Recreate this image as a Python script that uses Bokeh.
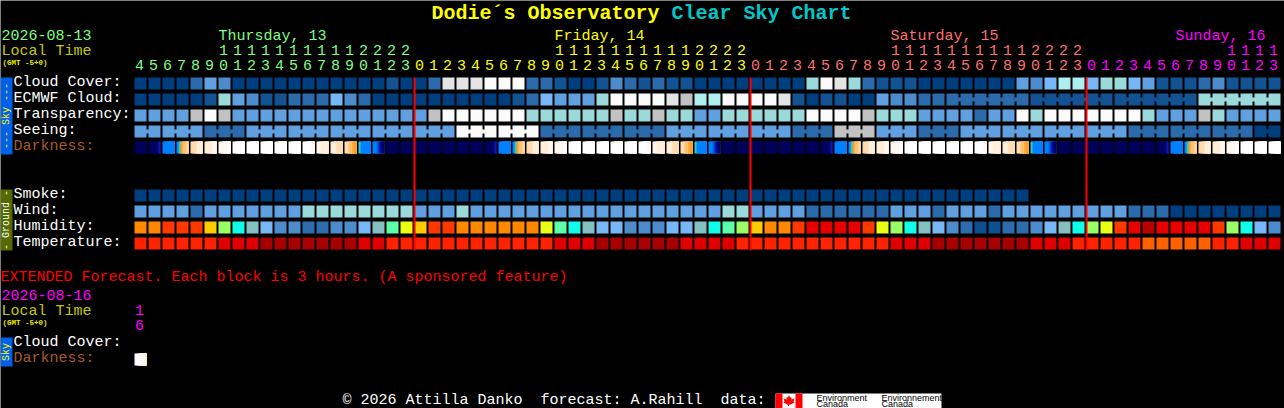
from bokeh.plotting import figure
from bokeh.models import ColumnDataSource, Range1d
from bokeh.core.properties import value
from bokeh.embed import file_html
from bokeh.resources import INLINE

# ---------- data ----------
HOURS = [4,5,6,7,8,9,10,11,12,13,14,15,16,17,18,19,20,21,22,23] + list(range(24))*2 + list(range(14))
DAY_OF_COL = [0]*20 + [1]*24 + [2]*24 + [3]*14

CLOUD = [0,0,0,0,20,40,30,0,0,0,0,0,0,0,0,0,0,0,10,0,
         0,20,90,90,90,100,100,100,20,20,10,0,0,10,30,20,10,20,10,10,0,0,0,0,
         0,0,0,0,60,100,90,60,20,10,10,10,0,0,0,0,0,0,0,40,30,50,70,70,
         50,60,60,50,40,10,10,10,20,30,10,10,10,10]
ECMWF = [0,0,0,0,0,10,60,40,30,10,10,20,20,20,50,30,20,0,0,0,
         0,0,0,0,0,0,0,10,20,50,40,40,40,60,100,100,100,100,90,80,70,70,100,100,
         100,100,90,10,0,10,10,0,0,40,30,30,20,20,20,20,20,20,20,20,10,10,10,10,
         10,10,10,10,10,10,10,10,60,60,60,60,60,60]
TRANSP = [2,2,2,2,4,5,4,2,2,2,2,2,2,2,2,2,2,2,2,2,
          2,4,5,5,5,5,5,5,3,3,3,3,3,3,4,3,3,4,3,3,2,2,3,3,
          3,3,3,3,5,5,5,5,4,3,3,3,2,2,2,2,1,2,2,5,3,5,5,5,
          5,5,5,5,3,2,2,2,4,3,2,2,2,2]
SEEING = [2,2,2,2,2,1,1,1,2,2,2,2,2,2,2,2,2,2,2,2,
          2,2,2,5,5,5,5,5,5,1,1,1,1,1,1,1,1,1,2,2,2,2,2,2,
          2,2,2,1,1,1,4,4,4,2,2,2,1,1,1,2,2,2,2,2,2,2,2,2,
          2,2,2,1,1,1,1,1,1,1,1,1,0,0]
DARK = ["000000","000012","444444","456778","888999","9999aa","aaaabb","bbbbbb","bbbbbb","bbbbbb",
        "bbbbbb","bbbbbb","bbbbaa","aa9999","999888","887766","544444","443210","000000","000000",
        "000000","000000","000000","000000","000000","000012","444444","456778","888999","9999aa",
        "aaaabb","bbbbbb","bbbbbb","bbbbbb","bbbbbb","bbbbbb","bbbbaa","aa9999","999888","887766",
        "544444","443210","000000","000000",
        "000000","000000","000000","000000","000000","000012","444444","456778","888999","9999aa",
        "aaaabb","bbbbbb","bbbbbb","bbbbbb","bbbbbb","bbbbbb","bbbbaa","aa9999","999888","887766",
        "544444","443210","000000","000000",
        "000000","000000","000000","000000","000000","000012","444444","456778","888999","9999aa",
        "aaaabb","bbbbbb","bbbbbb","bbbbbb"]
SMOKE = [0]*64
WIND = [2,2,2,2,1,2,2,2,2,2,2,2,3,3,3,3,3,3,3,3,
        2,2,2,3,2,2,2,2,2,2,2,2,2,2,2,2,2,2,2,2,2,2,3,3,
        2,2,2,2,1,1,1,1,1,1,2,2,2,1,2,2,2,1,2,2,2,2,2,2,
        2,2,2,1,1,1,0,0,0,0,0,0,0,0]
HUMID = [80,80,85,85,85,75,65,55,50,45,40,40,35,35,40,40,45,50,60,70,
         75,85,85,80,80,80,80,80,80,70,60,55,50,45,45,40,40,40,45,45,50,55,60,65,
         75,80,80,85,90,90,90,90,85,70,65,55,50,45,40,35,30,30,35,35,40,45,50,55,
         65,70,85,90,95,90,90,90,90,85,65,55,45,40]
TEMP = [21,21,21,21,21,21,18,18,18,15,15,15,15,15,15,15,18,18,21,21,
        21,21,21,21,21,21,21,21,21,21,18,18,18,15,15,15,15,15,15,18,18,18,18,21,
        21,21,21,21,21,21,21,21,21,21,18,18,18,15,15,15,15,15,15,15,18,18,18,21,
        21,21,21,21,24,24,24,24,24,21,21,18,18,18]
EXT_DARK = ["bbbaa9"]

DAY_NAMES = ["Thursday, 13", "Friday, 14", "Saturday, 15", "Sunday, 16"]
SKY_LABELS = ["Cloud Cover:", "ECMWF Cloud:", "Transparency:", "Seeing:", "Darkness:"]
GROUND_LABELS = ["Smoke:", "Wind:", "Humidity:", "Temperature:"]

# ---------- palettes ----------
CLOUD_PAL = {0:"#003f7f",10:"#135393",20:"#2b6bab",30:"#4c8ccc",40:"#60a0e0",50:"#77b7f7",
             60:"#9adada",70:"#aeeeee",80:"#c2c2c2",90:"#e4e4e4",100:"#fbfbfb"}
LEVEL_PAL = {0:"#003f7f",1:"#2b6bab",2:"#60a0e0",3:"#9adada",4:"#c2c2c2",5:"#fbfbfb"}
HUMID_PAL = {30:"#0d4f8f",35:"#2d6dad",40:"#4c8ccc",45:"#77b7f7",50:"#85c0c0",55:"#0fffea",
             60:"#5cffa8",65:"#9aff66",70:"#eaff14",75:"#ffcc00",80:"#ff8800",85:"#ff3800",
             90:"#e80000",95:"#b80000"}
TEMP_PAL = {15:"#a80000",18:"#e00000",21:"#ff2200",24:"#ff6000"}
DARK_PAL = {"0":"#00005a","1":"#000080","2":"#0020b0","3":"#0060e0","4":"#0080ff","5":"#30c8c0",
            "6":"#ffa020","7":"#ffc070","8":"#ffdcb0","9":"#ffeeda","a":"#fff8f0","b":"#ffffff"}
DAY_COL = ["#80ff80", "#ffff00", "#ff7070", "#ff00ff"]
MONO = "Liberation Mono"

# ---------- figure: 1 x unit = one column, 1 y unit = one row ----------
COL_PX, ROW_PX = 14, 16
X0, Y0 = 140, 83          # pixel centre of column 0 / row 0
W, H = 1284, 408
def fx(px): return (px - X0) / COL_PX
def fy(px): return (px - Y0) / ROW_PX

p = figure(width=W, height=H, output_backend="svg", toolbar_location=None,
           x_range=Range1d(fx(0), fx(W)), y_range=Range1d(fy(H), fy(0)),
           x_axis_type=None, y_axis_type=None, min_border=0,
           background_fill_color="#000000", border_fill_color="#000000",
           outline_line_color=None)
p.grid.visible = False

CELL_W, CELL_H = 12 / COL_PX, 12 / ROW_PX

def cells(vals, row, pal):
    src = ColumnDataSource(dict(x=list(range(len(vals))), y=[row]*len(vals), c=[pal[v] for v in vals]))
    p.rect(x="x", y="y", width=CELL_W, height=CELL_H, fill_color="c", line_color=None, source=src)

def bridges(vals, row, pal, start, size):
    """Multi-hour forecast blocks: cells in a block are joined by a small strip."""
    xs, cs = [], []
    for i in range(len(vals) - 1):
        if i >= start and (i + 1 - start) % size != 0:
            xs.append(i + 0.5); cs.append(pal[vals[i]])
    src = ColumnDataSource(dict(x=xs, y=[row]*len(xs), c=cs))
    p.rect(x="x", y="y", width=4/COL_PX, height=4/ROW_PX, fill_color="c", line_color=None, source=src)

def stripes(samples, row):
    # each stripe runs to the cell's right edge and is overdrawn by the next, so no seams show
    l, r, c = [], [], []
    for i, s in enumerate(samples):
        for j, ch in enumerate(s):
            l.append(i - CELL_W/2 + j*CELL_W/len(s))
            r.append(i + CELL_W/2)
            c.append(DARK_PAL[ch])
    src = ColumnDataSource(dict(l=l, r=r, c=c))
    p.quad(left="l", right="r", bottom=row+CELL_H/2, top=row-CELL_H/2, fill_color="c", line_color=None, source=src)

def txt(px, py, s, color, size=15, bold=False, font=MONO, align="left", angle=0):
    nudge = 1 if (font == MONO and angle == 0) else 0   # the mono font's side bearing
    p.text(x=[fx(px - nudge)], y=[fy(py)], text=[s], text_color=color, text_font=value(font),
           text_font_size=f"{size}px", text_font_style="bold" if bold else "normal",
           text_align=align, text_baseline="middle", angle=angle)

def box(x1, x2, y1, y2, color):
    p.quad(left=[fx(x1)], right=[fx(x2)], top=[fy(y1)], bottom=[fy(y2)], fill_color=color, line_color=None)

# rows
cells(CLOUD, 0, CLOUD_PAL)
cells(ECMWF, 1, CLOUD_PAL); bridges(ECMWF, 1, CLOUD_PAL, 58, 6)
cells(TRANSP, 2, LEVEL_PAL)
cells(SEEING, 3, LEVEL_PAL); bridges(SEEING, 3, LEVEL_PAL, 2, 3)
p.rect(x=[0.5], y=[3], width=4/COL_PX, height=4/ROW_PX, fill_color=LEVEL_PAL[SEEING[0]], line_color=None)
stripes(DARK, 4)
cells(SMOKE, 7, LEVEL_PAL)
cells(WIND, 8, LEVEL_PAL)
cells(HUMID, 9, HUMID_PAL)
cells(TEMP, 10, TEMP_PAL)
stripes(EXT_DARK, fy(359))

# midnight lines: 2px wide, covering the first pixel of the new day's column
for i, d in enumerate(DAY_OF_COL):
    if i and d != DAY_OF_COL[i-1]:
        mid = X0 + i*COL_PX - 6
        box(mid - 1, mid + 1, 77, 250, "#ff0000")

# title
txt(432, 13, "Dodie´s Observatory", "#ffff00", size=20, bold=True)
txt(672, 13, "Clear Sky Chart", "#00c8c8", size=20, bold=True)

# header
txt(2, 34, "2026-08-13", DAY_COL[0])
txt(2, 51, "Local Time", "#c8c800")
txt(3, 62, "(GMT -5+0)", "#e8e800", size=7.5, bold=True)
for name, x, c in zip(DAY_NAMES, [219, 555, 891, 1176], DAY_COL):
    txt(x, 36, name, c)
for i, (h, d) in enumerate(zip(HOURS, DAY_OF_COL)):
    if h >= 10:
        txt(X0 + i*COL_PX, 49, str(h // 10), DAY_COL[d], align="center")
    txt(X0 + i*COL_PX, 64, str(h % 10), DAY_COL[d], align="center")

# row labels
LABEL_X = 14
for r, s in enumerate(SKY_LABELS):
    txt(LABEL_X, Y0 - 1 + r*ROW_PX, s, "#a85a2c" if s == "Darkness:" else "#ffffff")
for r, s in enumerate(GROUND_LABELS):
    txt(LABEL_X, Y0 - 1 + (r+7)*ROW_PX, s, "#ffffff")

# side bars
box(0, 12, 77, 154, "#0060e8")
txt(6, 115.5, "--- Sky ---", "#ffff00", size=10, align="center", angle=1.5708)
box(0, 12, 189, 250, "#556b00")
txt(6, 219.5, "- Ground -", "#ffffff", size=10, align="center", angle=1.5708)
box(0, 12, 337, 366, "#0060e8")
txt(6, 351.5, "Sky", "#ffff00", size=10, align="center", angle=1.5708)

# extended forecast
txt(1, 277, "EXTENDED Forecast. Each block is 3 hours. (A sponsored feature)", "#ff0000")
txt(2, 294, "2026-08-16", "#ff00ff")
txt(2, 311, "Local Time", "#c8c800")
txt(3, 322, "(GMT -5+0)", "#e8e800", size=7.5, bold=True)
txt(X0, 309, "1", "#ff00ff", align="center")
txt(X0, 324, "6", "#ff00ff", align="center")
txt(LABEL_X, 342, "Cloud Cover:", "#ffffff")
txt(LABEL_X, 358, "Darkness:", "#a85a2c")

# footer + data logo
txt(343, 400, "© 2026 Attilla Danko\u00a0\u00a0forecast: A.Rahill\u00a0\u00a0data:", "#ffffff")
box(775, 941, 393, 408, "#ffffff")
box(775, 782, 393, 408, "#ff0000")
box(795, 802, 393, 408, "#ff0000")
LEAF_X = [788.5,790,791,791,794,793,794,790,789,788,787,783,784,783,786,786,787]
LEAF_Y = [395,397,397,399,398,401,402,404,404,406,404,402,401,398,399,397,397]
p.patch(x=[fx(v) for v in LEAF_X], y=[fy(v) for v in LEAF_Y], fill_color="#ff0000", line_color=None)
for x, s in [(816, "Environment"), (881, "Environnement")]:
    txt(x, 397, s, "#000000", size=9, font="Liberation Sans")
    txt(x, 403.5, "Canada", "#000000", size=9, font="Liberation Sans")

open("out.html", "w").write(file_html(p, INLINE))
